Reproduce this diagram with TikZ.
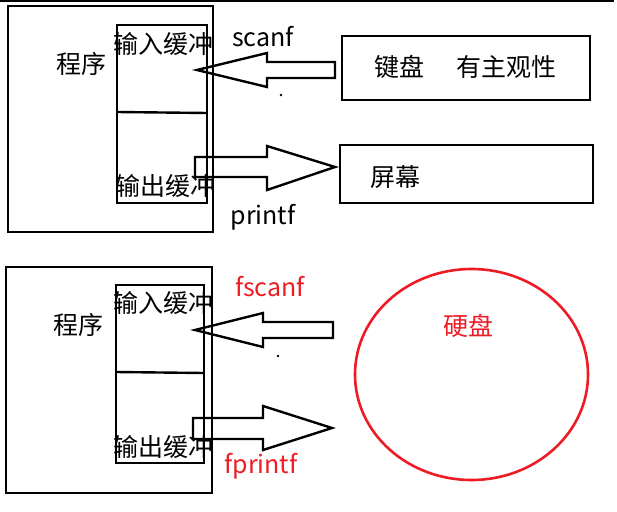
\documentclass[tikz,border=0pt]{standalone}
\usepackage{fontspec}
\usetikzlibrary{shapes.geometric}
\setmainfont{Noto Sans CJK SC}
\definecolor{pred}{RGB}{237,28,36}
\begin{document}
\begin{tikzpicture}[x=1pt,y=-1pt,
  ln/.style={line width=2.4pt,black},
  box/.style={draw,line width=2.4pt,inner sep=0pt,outer sep=0pt},
  lbl/.style={inner sep=0pt,font=\fontsize{25}{29}\selectfont},
  blockarrow/.style={draw,line width=2.4pt,line join=miter}]
\useasboundingbox (0,0) rectangle (617,511);
% top border line
\coordinate (tl) at (0,1);
\coordinate (tr) at (614,1);
\draw[line width=2.5pt] (tl) -- (tr);

% ===== top section =====
\node[box,minimum width=205pt,minimum height=226pt] (prog1) at (110.5,119) {};
\node[box,minimum width=90pt,minimum height=178pt] (buf1) at (162,114) {};
\coordinate (d1a) at (117,112);
\coordinate (d1b) at (207,113);
\draw[ln] (d1a) -- (d1b);
\node[lbl] (p1) at (81,64) {程序};
\node[lbl] (in1) at (163,44) {输入缓冲};
\node[lbl] (out1) at (165,186) {输出缓冲};
\node[lbl] (scanf) at (263,37) {scanf};
\node[lbl] (printf) at (263,217) {printf};
\node[box,minimum width=248pt,minimum height=64pt] (kb) at (466,68) {};
\node[lbl] (kbt) at (399,67) {键盘};
\node[lbl] (kbs) at (506,67) {有主观性};
\node[box,minimum width=253pt,minimum height=58pt] (scr) at (466.5,174) {};
\node[lbl] (scrt) at (395,177) {屏幕};
% scanf arrow (left)
\draw[blockarrow] (197,70) -- (267,53) -- (267,62) -- (335,62) -- (335,78) -- (267,78) -- (267,87) -- cycle;
\fill (281,95) circle (1.4pt);
% printf arrow (right)
\draw[blockarrow] (195,157) -- (267,157) -- (267,146) -- (335,167) -- (267,190) -- (267,177) -- (195,177) -- cycle;

% ===== bottom section =====
\node[box,minimum width=206pt,minimum height=226pt] (prog2) at (109,380) {};
\node[box,minimum width=88pt,minimum height=178pt] (buf2) at (160,374) {};
\coordinate (d2a) at (116,372);
\coordinate (d2b) at (204,373);
\draw[ln] (d2a) -- (d2b);
\node[lbl] (p2) at (78,325) {程序};
\node[lbl] (in2) at (163,303) {输入缓冲};
\node[lbl] (out2) at (163,447) {输出缓冲};
\node[lbl,text=pred] (fscanf) at (270,287) {fscanf};
\node[lbl,text=pred] (fprintf) at (261,466) {fprintf};
% fscanf arrow (left)
\draw[blockarrow] (195,330) -- (263,313) -- (263,322) -- (333,322) -- (333,338) -- (263,338) -- (263,347) -- cycle;
\fill (278,356) circle (1.4pt);
% fprintf arrow (right)
\draw[blockarrow] (193,418) -- (263,418) -- (263,406) -- (332,428) -- (263,450) -- (263,439) -- (193,439) -- cycle;
% disk
\node[draw=pred,line width=2.6pt,ellipse,minimum width=233pt,minimum height=211pt,inner sep=0pt] (disk) at (471.5,374.5) {};
\node[lbl,text=pred] (diskt) at (468,326) {硬盘};
\end{tikzpicture}
\end{document}
